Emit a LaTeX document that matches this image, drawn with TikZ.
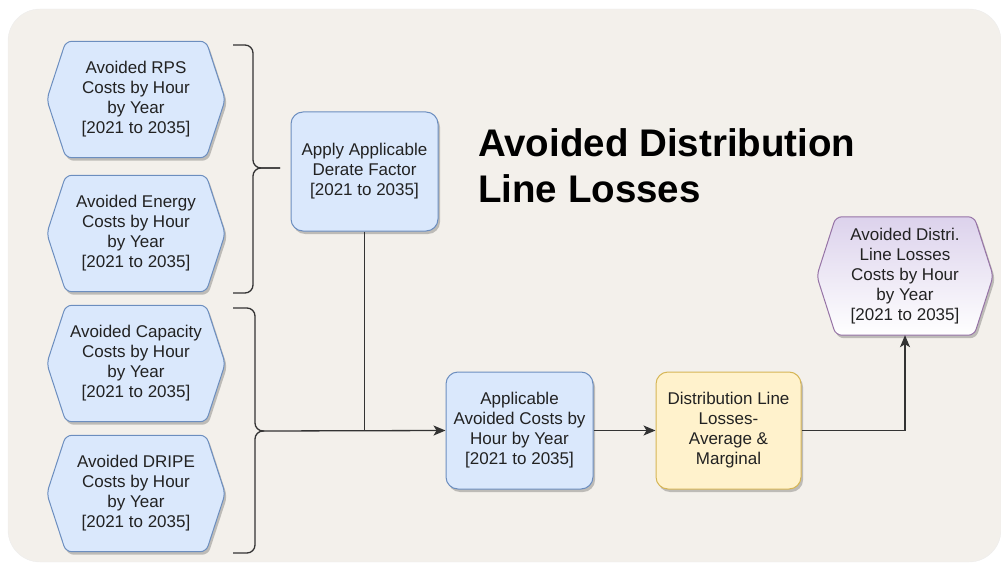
\documentclass[tikz,border=0pt]{standalone}
\usepackage{fontspec}
\setmainfont{Liberation Sans}
\usetikzlibrary{arrows.meta,shadows}
\definecolor{bgc}{HTML}{F3F0EB}
\definecolor{bluef}{HTML}{DAE8FC}
\definecolor{blued}{HTML}{6C8EBF}
\definecolor{yelf}{HTML}{FFF2CC}
\definecolor{yeld}{HTML}{D6B656}
\definecolor{purf}{HTML}{DCD2EC}
\definecolor{purd}{HTML}{9673A6}
\definecolor{linec}{HTML}{333333}
\definecolor{txt}{HTML}{222222}
\pgfdeclarelayer{bgbase}
\pgfdeclarelayer{background}
\pgfsetlayers{bgbase,background,main}
\tikzset{
  lbl/.style={text=txt, font=\fontsize{17}{20}\selectfont, align=center, inner sep=0pt},
  hexnode/.style={lbl, minimum width=178pt, minimum height=116pt},
  shade3/.style={drop shadow={shadow xshift=2pt, shadow yshift=-3pt, opacity=0.22, fill=black}},
  roundbox/.style={lbl, rounded corners=12pt, draw, line width=1pt, shade3},
  bluebox/.style={roundbox, fill=bluef, draw=blued},
  yelbox/.style={roundbox, fill=yelf, draw=yeld},
  bluehex/.style={fill=bluef, draw=blued, line width=1pt, shade3},
  purhex/.style={top color=purf, bottom color=white, draw=purd, line width=1pt, shade3},
  conn/.style={draw=linec, line width=1.3pt},
  arr/.style={conn, -{Stealth[length=12pt,width=10pt,inset=3pt]}},
  bracestyle/.style={draw=linec, line width=1.3pt, rounded corners=8pt},
  titletext/.style={font=\bfseries\fontsize{38.5}{46}\selectfont, align=left, inner sep=0pt, text=black},
}
\newcommand\hexpath[3]{%
  \path[#2, rounded corners=6pt] (#1.west) -- ([xshift=#3]#1.north west) -- ([xshift=-#3]#1.north east) -- (#1.east) -- ([xshift=-#3]#1.south east) -- ([xshift=#3]#1.south west) -- cycle;}
\begin{document}
\begin{tikzpicture}[x=1pt,y=-1pt]
\useasboundingbox (0,0) rectangle (1001,564);
\begin{pgfonlayer}{bgbase}
  \path[fill=bgc, draw=black!7, rounded corners=32pt] (8,9) rectangle (1001,562);
\end{pgfonlayer}

% input hexagons
\node[hexnode] (rps) at (136,99.5) {Avoided RPS\\Costs by Hour\\by Year\\{[}2021 to 2035{]}};
\node[hexnode] (energy) at (136,233.5) {Avoided Energy\\Costs by Hour\\by Year\\{[}2021 to 2035{]}};
\node[hexnode] (capacity) at (136,363.5) {Avoided Capacity\\Costs by Hour\\by Year\\{[}2021 to 2035{]}};
\node[hexnode] (dripe) at (136,493.5) {Avoided DRIPE\\Costs by Hour\\by Year\\{[}2021 to 2035{]}};

% boxes
\node[bluebox, minimum width=147pt, minimum height=119pt] (derate) at (364.5,171.5) {Apply Applicable\\Derate Factor\\{[}2021 to 2035{]}};
\node[bluebox, minimum width=147pt, minimum height=117pt] (app) at (519.5,430.5) {Applicable\\Avoided Costs by\\Hour by Year\\{[}2021 to 2035{]}};
\node[yelbox, minimum width=145pt, minimum height=117pt] (dist) at (728.5,430.5) {Distribution Line\\Losses-\\Average \&\\Marginal};
\node[hexnode, minimum width=176pt, minimum height=118pt] (out) at (905,276) {Avoided Distri.\\Line Losses\\Costs by Hour\\by Year\\{[}2021 to 2035{]}};

% title
\node[titletext, anchor=north west] (title) at (478,128.5) {Avoided Distribution\\Line Losses};

\begin{pgfonlayer}{background}
  \hexpath{rps}{bluehex}{19pt}
  \hexpath{energy}{bluehex}{19pt}
  \hexpath{capacity}{bluehex}{19pt}
  \hexpath{dripe}{bluehex}{19pt}
  \hexpath{out}{purhex}{19pt}
\end{pgfonlayer}

% braces
\coordinate (b1tip) at (280,168);
\draw[bracestyle] (233,45) -- (253,45) -- (253,168) -- (b1tip);
\draw[bracestyle] (233,293) -- (253,293) -- (253,168) -- (b1tip);
\coordinate (b2tip) at (264,431);
\draw[bracestyle] (233,308) -- (255,308) -- (255,431) -- (b2tip);
\draw[bracestyle] (233,553) -- (255,553) -- (255,431) -- (b2tip);

% connectors
\draw[arr] (b2tip) -- (app.west);
\draw[conn] (derate.south) -- (derate.south |- app.west);
\draw[arr] (app.east) -- (dist.west);
\draw[arr] (dist.east) -| (out.south);
\end{tikzpicture}
\end{document}
